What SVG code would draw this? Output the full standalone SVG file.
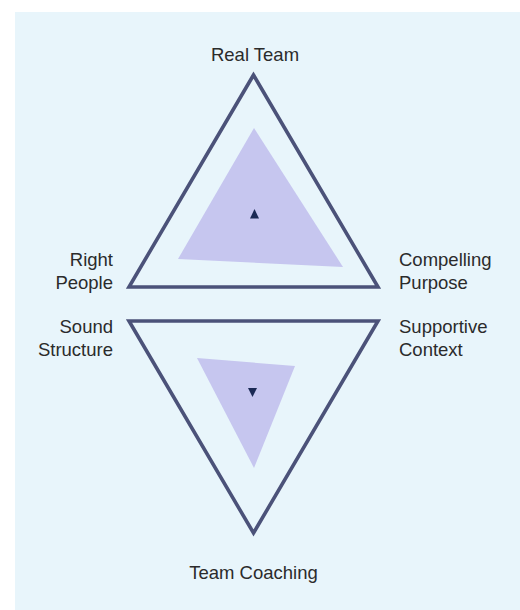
<svg xmlns="http://www.w3.org/2000/svg" width="520" height="610" viewBox="0 0 520 610">
  <style>
    .lbl { font-family: "Liberation Sans", Arial, sans-serif; font-size: 18.5px; fill: #2b2b2b; }
    .outer { fill: none; stroke: #4b5279; stroke-width: 3.6; stroke-linejoin: miter; }
    .inner { fill: #c6c6ef; }
    .mark { fill: #1b2a55; }
  </style>
  <!-- backdrop panel -->
  <rect x="15" y="12" width="505" height="598" fill="#e8f5fb"/>

  <g id="connectors"/>

  <!-- upper triangle -->
  <g id="upper">
    <polygon class="outer" points="253.5,75 129,287 378,287"/>
    <polygon class="inner" points="254,128 178,259 343,267"/>
    <polygon class="mark" points="254.5,209 250,218.5 259,218.5"/>
  </g>

  <!-- lower triangle -->
  <g id="lower">
    <polygon class="outer" points="129,321 378,321 253.5,533"/>
    <polygon class="inner" points="197,358 295,366 254,468"/>
    <polygon class="mark" points="248,388 257,388 252.5,397"/>
  </g>

  <g id="label-real-team">
    <text class="lbl" x="255" y="61" text-anchor="middle">Real Team</text>
  </g>
  <g id="label-right-people">
    <text class="lbl" x="113" y="266" text-anchor="end">Right</text>
    <text class="lbl" x="113" y="289" text-anchor="end">People</text>
  </g>
  <g id="label-compelling-purpose">
    <text class="lbl" x="399" y="266">Compelling</text>
    <text class="lbl" x="399" y="289">Purpose</text>
  </g>
  <g id="label-sound-structure">
    <text class="lbl" x="113" y="333" text-anchor="end">Sound</text>
    <text class="lbl" x="113" y="356" text-anchor="end">Structure</text>
  </g>
  <g id="label-supportive-context">
    <text class="lbl" x="399" y="333">Supportive</text>
    <text class="lbl" x="399" y="356">Context</text>
  </g>
  <g id="label-team-coaching">
    <text class="lbl" x="253.5" y="579" text-anchor="middle">Team Coaching</text>
  </g>
</svg>
